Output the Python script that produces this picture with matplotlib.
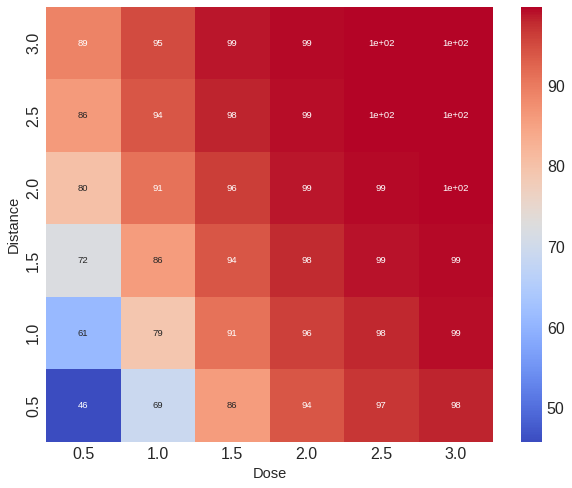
import numpy as np
import pandas as pd
import seaborn as sns
from matplotlib import pyplot as plt

doses = [0.5, 1.0, 1.5, 2.0, 2.5, 3.0]
distances = [3.0, 2.5, 2.0, 1.5, 1.0, 0.5]

# rows follow `distances` (top to bottom)
row_30 = [89.2, 95.1, 98.8, 99.4, 99.7, 99.8]
row_25 = [86.1, 94.0, 98.2, 99.2, 99.6, 99.7]
row_20 = [80.2, 91.0, 96.3, 98.8, 99.4, 99.6]
row_15 = [72.3, 86.0, 94.0, 97.9, 99.1, 99.4]
row_10 = [61.0, 79.2, 91.0, 96.2, 98.0, 99.2]
row_05 = [45.8, 69.1, 86.0, 94.1, 97.0, 98.2]


def main():
    sns.set_style("white")
    plt.rcParams["font.family"] = ["Liberation Sans", "DejaVu Sans"]

    data = pd.DataFrame([row_30, row_25, row_20, row_15, row_10, row_05],
                        index=distances, columns=doses)

    fig = plt.figure(figsize=(5.72, 4.88), dpi=100)
    ax = fig.add_axes([46/572, 1 - 442/488, (493-46)/572, (442-7)/488])
    cax = fig.add_axes([521/572, 1 - 442/488, (542-521)/572, (442-7)/488])

    sns.heatmap(data, cmap="coolwarm", annot=True, annot_kws={"size": 6.8},
                ax=ax, cbar_ax=cax)

    ax.set_xlabel("Dose", fontsize=10.5, color="0.15")
    ax.set_ylabel("Distance", fontsize=10.5, color="0.15", labelpad=4)
    ax.tick_params(axis="both", labelsize=11.5, colors="0.15", length=0)
    ax.set_yticklabels([str(d) for d in distances], rotation=90, va="center")
    cax.tick_params(labelsize=11.5, colors="0.15", length=0)

    fig.savefig("out.png", dpi=100)


if __name__ == "__main__":
    main()
